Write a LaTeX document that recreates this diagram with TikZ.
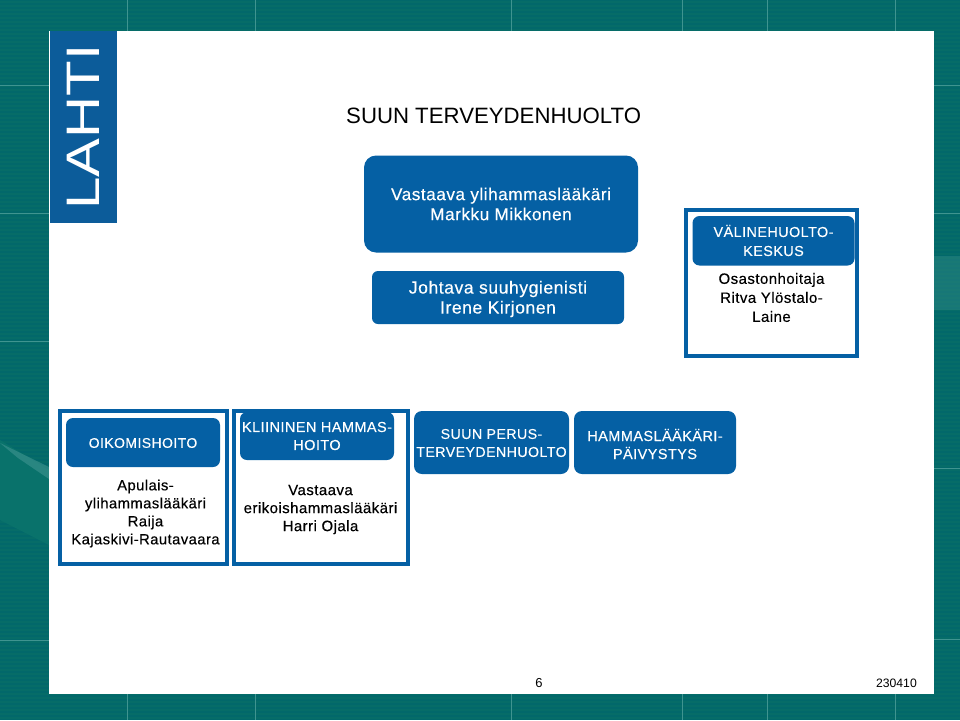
\documentclass[tikz,border=0pt]{standalone}
\usepackage{fontspec}
\setmainfont{Liberation Sans}
\newfontfamily\wideface[LetterSpace=3,FakeBold=.3]{Liberation Sans}
\definecolor{tealback}{HTML}{02686A}
\definecolor{tealstripe}{HTML}{066C68}
\definecolor{tealpatch}{HTML}{09726B}
\definecolor{tealline}{HTML}{3F9490}
\definecolor{lahtiblue}{HTML}{0560A4}
\definecolor{logoblue}{HTML}{0C5C9A}

\begin{document}
\begin{tikzpicture}[x=1pt,y=-1pt]
    \tikzstyle{blue box}=[draw=none,fill=lahtiblue,text=white,align=center,inner sep=0,outer sep=0,anchor=north west]
    \tikzstyle{frame box}=[rectangle,draw=lahtiblue,line width=4pt,fill=white,inner sep=0,outer sep=0,anchor=north west]
    \tikzstyle{body text}=[align=center,inner sep=0,text=black]
    \tikzstyle{grid line}=[tealline,line width=.7pt]

    \useasboundingbox (0,0) rectangle (960,720);

    % background
    \fill[tealback] (0,0) rectangle (960,720);
    \foreach \y in {2,6,...,718} {
        \draw[tealstripe,line width=1.5pt] (0,\y) -- (960,\y);
    }
    \fill[tealpatch] (0,440) -- (49,470) -- (49,545) -- (0,520) -- cycle;
    \fill[tealline,opacity=.6] (0,443) -- (49,467) -- (49,479) -- (18,458) -- cycle;
    \fill[tealline,opacity=.35] (934,256) rectangle (960,310);
    \foreach \x in {127.5,255,511,682.5,767,895} {
        \draw[grid line] (\x,0) -- (\x,31);
        \draw[grid line] (\x,694) -- (\x,720);
    }
    \foreach \y in {85,213,341,640} {
        \draw[grid line] (0,\y) -- (49,\y);
    }
    \foreach \y in {85,213,468,639} {
        \draw[grid line] (934,\y) -- (960,\y);
    }

    % slide and logo
    \node(slide)[fill=white,inner sep=0,outer sep=0,minimum width=885,minimum height=663,anchor=north west] at (49,31){};
    \node(logo)[fill=logoblue,inner sep=0,outer sep=0,minimum width=67,minimum height=192,anchor=north west] at (49.5,31){};
    \node(lahti)[text=white,inner sep=0,rotate=90,xscale=1.24,font=\rmfamily\fontsize{47}{47}\selectfont] at (83,127){LAHTI};

    \node(title)[inner sep=0,anchor=base west,font=\rmfamily\fontsize{22.2}{24}\selectfont] at (346,123){SUUN TERVEYDENHUOLTO};

    % top boxes
    \node(head)[blue box,rounded corners=12,minimum width=274,minimum height=97] at (364,155.5){};
    \node(headtext)[body text,text=white,font=\wideface\fontsize{17.2}{20}\selectfont] at (501,204){Vastaava ylihammaslääkäri\\Markku Mikkonen};
    \node(hygienist)[blue box,rounded corners=6,minimum width=252,minimum height=53] at (372,271){};
    \node(hygienisttext)[body text,text=white,font=\wideface\fontsize{17.6}{20}\selectfont] at (498,299){Johtava suuhygienisti\\Irene Kirjonen};

    % equipment care
    \node(careframe)[frame box,minimum width=171,minimum height=146] at (686,209.5){};
    \node(carehead)[blue box,rounded corners=7,minimum width=162,minimum height=49.5] at (692.5,216){};
    \node(careheadtext)[body text,text=white,font=\wideface\fontsize{14.4}{19}\selectfont] at (773.5,240.5){VÄLINEHUOLTO-\\KESKUS};
    \node(carebody)[body text,font=\wideface\fontsize{15}{19}\selectfont] at (771.5,297.5){Osastonhoitaja\\Ritva Ylöstalo-\\Laine};

    % lower row
    \node(orthoframe)[frame box,minimum width=167.5,minimum height=153] at (59.5,411){};
    \node(orthohead)[blue box,rounded corners=7,minimum width=154,minimum height=49] at (66,418){};
    \node(orthoheadtext)[body text,text=white,font=\wideface\fontsize{14}{18}\selectfont] at (143,443){OIKOMISHOITO};
    \node(orthobody)[body text,font=\wideface\fontsize{14.8}{18}\selectfont] at (145.5,513.5){Apulais-\\ylihammaslääkäri\\Raija\\Kajaskivi-Rautavaara};

    \node(clinicframe)[frame box,minimum width=174,minimum height=153] at (234,411){};
    \node(clinichead)[blue box,rounded corners=7,minimum width=154,minimum height=48] at (240,412){};
    \node(clinicheadtext)[body text,text=white,font=\wideface\fontsize{14.5}{18}\selectfont] at (317,436){KLIININEN HAMMAS-\\HOITO};
    \node(clinicbody)[body text,font=\wideface\fontsize{15}{18}\selectfont] at (320.5,509.5){Vastaava\\erikoishammaslääkäri\\Harri Ojala};

    \node(basic)[blue box,rounded corners=8,minimum width=155,minimum height=63] at (414,411){};
    \node(basictext)[body text,text=white,font=\wideface\fontsize{14.2}{18}\selectfont] at (491.5,443){SUUN PERUS-\\TERVEYDENHUOLTO};
    \node(duty)[blue box,rounded corners=8,minimum width=162,minimum height=63] at (574,411){};
    \node(dutytext)[body text,text=white,font=\wideface\fontsize{14.5}{18}\selectfont] at (655,444){HAMMASLÄÄKÄRI-\\PÄIVYSTYS};

    % footer
    \node(page)[inner sep=0,anchor=base,font=\fontsize{13}{15}\selectfont\rmfamily] at (539,687.5){6};
    \node(date)[inner sep=0,anchor=base east,font=\fontsize{12.2}{15}\selectfont\rmfamily] at (917,687.5){230410};
\end{tikzpicture}
\end{document}
